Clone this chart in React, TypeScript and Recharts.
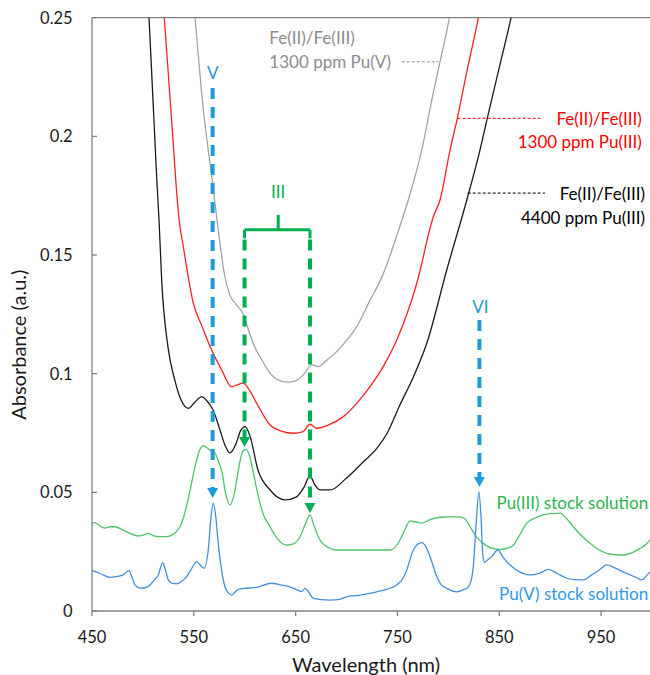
import React from "react";
import { LineChart, Line, XAxis, YAxis, ReferenceLine, ReferenceDot } from "recharts";

const FONT = "Lato, 'Open Sans', sans-serif";

const xTicks = [450, 550, 650, 750, 850, 950];
const yTicks = [0, 0.05, 0.1, 0.15, 0.2, 0.25];

// [wavelength nm, absorbance]
const fePuV1300: [number, number][] = [
  [530, 0.36], [545, 0.28], [551.2, 0.25], [559.4, 0.2111], [567.6, 0.183], [575.7, 0.155],
  [580, 0.142], [585.6, 0.133], [592, 0.129], [598.6, 0.125], [604, 0.118], [610, 0.111],
  [615, 0.1072], [624.9, 0.1002], [632, 0.0975], [642.8, 0.0964], [650, 0.097], [657.6, 0.0995],
  [665.8, 0.1037], [672.3, 0.103], [680, 0.1055], [690.3, 0.1093], [700, 0.114], [710, 0.1198],
  [723.1, 0.131], [735, 0.141], [749.2, 0.158], [760.6, 0.1732], [773.9, 0.1943], [785, 0.218],
  [791.8, 0.2314], [801, 0.25], [815, 0.29],
];

const fePuIII1300: [number, number][] = [
  [510, 0.31], [521, 0.25], [528, 0.208], [535.5, 0.165], [539.7, 0.1535], [549.5, 0.1297],
  [558, 0.12], [567.5, 0.11], [577.3, 0.1016], [587.2, 0.0945], [592, 0.0952], [598.6, 0.096],
  [604, 0.0935], [611.8, 0.0875], [624.9, 0.0784], [636, 0.0758], [647.7, 0.0749], [657, 0.0755],
  [664.1, 0.0787], [670.7, 0.077], [683, 0.0785], [696.9, 0.0819], [710, 0.0875], [723.1, 0.0945],
  [736, 0.103], [749.3, 0.1142], [769, 0.1381], [785.3, 0.1662], [791.8, 0.1732], [801.7, 0.1943],
  [808.9, 0.2078], [818, 0.227], [829.5, 0.25], [840, 0.275],
];

const fePuIII4400: [number, number][] = [
  [490, 0.34], [500, 0.29], [506, 0.25], [513.6, 0.182], [515.8, 0.165], [518.5, 0.139],
  [524.7, 0.111], [531.5, 0.097], [537.4, 0.089], [544.6, 0.0854], [551, 0.088], [557.8, 0.0903],
  [563, 0.0885], [568.9, 0.0847], [575.7, 0.0763], [580.5, 0.07], [585.6, 0.0666], [591, 0.07],
  [596, 0.076], [600.3, 0.0777], [605, 0.074], [613, 0.0594], [624.9, 0.051], [639.6, 0.0468],
  [650.4, 0.048], [658, 0.052], [664, 0.0569], [669, 0.053], [674, 0.051], [683.8, 0.051],
  [700, 0.056], [716.5, 0.0629], [729.7, 0.0685], [740, 0.075], [752.6, 0.087], [765, 0.098],
  [778.8, 0.1128], [798.4, 0.1437], [818.1, 0.1732], [831.1, 0.1943], [838.3, 0.2078],
  [850, 0.229], [861.6, 0.25], [880, 0.29],
];

const puIIIStock: [number, number][] = [
  [450, 0.037], [453, 0.0372], [457, 0.036], [462.8, 0.0349], [468, 0.0355], [472.6, 0.0355],
  [480, 0.0342], [487.3, 0.0327], [495.2, 0.0316], [500, 0.032], [505, 0.0327], [510, 0.0318],
  [516.8, 0.0313], [522, 0.0313], [528.6, 0.032], [533, 0.0335], [536.4, 0.0355], [540, 0.0395],
  [544.3, 0.0468], [551.2, 0.0608], [555, 0.067], [559.4, 0.0697], [565, 0.068], [570.8, 0.0665],
  [575, 0.062], [577.7, 0.0585], [581, 0.05], [585.6, 0.0447], [590, 0.05], [594, 0.06],
  [598, 0.0672], [601.3, 0.0681], [605, 0.065], [609, 0.057], [613.4, 0.0482], [618, 0.041],
  [624.9, 0.0355], [632, 0.0305], [641.3, 0.0278], [648, 0.0283], [654.3, 0.0313], [659, 0.036],
  [664.1, 0.0405], [668, 0.036], [674, 0.0299], [683.8, 0.0264], [690.3, 0.0257], [715, 0.0257],
  [742.7, 0.0257], [748, 0.027], [752.6, 0.0299], [757, 0.034], [762.4, 0.038], [768, 0.0375],
  [773.9, 0.037], [782, 0.0385], [791.8, 0.0395], [800, 0.0397], [811.5, 0.0397], [816, 0.039],
  [821.3, 0.0355], [828, 0.031], [834.4, 0.0285], [842, 0.0265], [850.8, 0.026], [858, 0.0265],
  [863.9, 0.0278], [870, 0.032], [877, 0.037], [885, 0.0392], [893.3, 0.0405], [900, 0.041],
  [909.7, 0.0412], [916, 0.039], [922.8, 0.0355], [930, 0.032], [939.2, 0.0285], [947, 0.026],
  [955.6, 0.0243], [965, 0.0237], [971.9, 0.0236], [980, 0.0245], [988.3, 0.0264], [994, 0.028],
  [1000, 0.031],
];

const puVStock: [number, number][] = [
  [450, 0.017], [458, 0.0158], [467.7, 0.0142], [475, 0.0146], [480.7, 0.0152], [486.3, 0.017],
  [489, 0.0145], [492.2, 0.011], [497.2, 0.0096], [502, 0.0098], [507, 0.011], [511, 0.013],
  [515.1, 0.0152], [519.4, 0.0204], [522, 0.0175], [525, 0.0131], [529, 0.0116], [533.2, 0.0114],
  [538, 0.0125], [543, 0.0145], [548, 0.018], [552.8, 0.0208], [556, 0.0195], [560, 0.018],
  [564.2, 0.0257], [566.5, 0.038], [569.1, 0.0454], [571.5, 0.04], [574, 0.0285], [577, 0.018],
  [580.6, 0.0102], [584, 0.0075], [587.2, 0.0067], [590, 0.0078], [593.7, 0.0091], [600, 0.0095],
  [611.7, 0.01], [626.5, 0.0117], [635, 0.011], [644.5, 0.0102], [652, 0.0088], [656, 0.0082],
  [659.2, 0.0095], [662, 0.0085], [667.4, 0.0053], [675, 0.0048], [683.8, 0.0046], [692, 0.0048],
  [700.2, 0.006], [710, 0.0065], [719.8, 0.0072], [729.7, 0.0081], [740, 0.0092], [749.3, 0.011],
  [755, 0.0135], [759.1, 0.0173], [765.6, 0.0257], [769.5, 0.028], [773.9, 0.0288], [778, 0.027],
  [782, 0.0229], [788.6, 0.0145], [793, 0.011], [798.4, 0.0096], [803, 0.0086], [808.2, 0.0081],
  [815, 0.009], [819.6, 0.0102], [822.5, 0.013], [824.5, 0.0187], [827, 0.035], [830, 0.0502],
  [832, 0.04], [833.7, 0.0243], [835.5, 0.0205], [837.6, 0.0212], [842.6, 0.0229], [848.5, 0.0257],
  [854, 0.0225], [860.6, 0.0194], [870, 0.0165], [880.3, 0.0152], [890, 0.016], [898.3, 0.0175],
  [907, 0.0158], [916.3, 0.0138], [925, 0.0132], [932.6, 0.0131], [940, 0.015], [948, 0.0172],
  [955.6, 0.0194], [962, 0.0185], [970, 0.0168], [978.5, 0.0152], [985, 0.014], [990, 0.0131],
  [995, 0.015], [1000, 0.0173],
];

const BLUE_ANN = "#1f9bd8";
const GREEN_ANN = "#00b050";

const series = [
  { key: "grey", pts: fePuV1300, color: "#a3a3a3" },
  { key: "red", pts: fePuIII1300, color: "#ff2020" },
  { key: "black", pts: fePuIII4400, color: "#1a1a1a" },
  { key: "green", pts: puIIIStock, color: "#4cc46a" },
  { key: "blue", pts: puVStock, color: "#4390da" },
];

// dashed arrows: x, top of dash, tip of head
const arrows = [
  { x: 568.5, top: 0.2204, tip: 0.0476, color: BLUE_ANN },
  { x: 599.8, top: 0.1565, tip: 0.0691, color: GREEN_ANN },
  { x: 664.1, top: 0.1565, tip: 0.0413, color: GREEN_ANN },
  { x: 830.5, top: 0.1226, tip: 0.0523, color: BLUE_ANN },
];

const leaders = [
  { x1: 754.2, x2: 790.1, y: 0.2314, color: "#8c8c8c" },
  { x1: 809.1, x2: 891.6, y: 0.2076, color: "#ff0000" },
  { x1: 819, x2: 894.9, y: 0.1761, color: "#000000" },
];

const labels = [
  { x: 624.2, y: 0.2415, text: "Fe(II)/Fe(III)", color: "#8c8c8c", anchor: "start" },
  { x: 624.2, y: 0.2314, text: "1300 ppm Pu(V)", color: "#8c8c8c", anchor: "start" },
  { x: 990, y: 0.2077, text: "Fe(II)/Fe(III)", color: "#ff0000", anchor: "end" },
  { x: 990, y: 0.1977, text: "1300 ppm Pu(III)", color: "#ff0000", anchor: "end" },
  { x: 993.2, y: 0.176, text: "Fe(II)/Fe(III)", color: "#000000", anchor: "end" },
  { x: 993.2, y: 0.1657, text: "4400 ppm Pu(III)", color: "#000000", anchor: "end" },
  { x: 996.2, y: 0.0456, text: "Pu(III) stock solution", color: "#2bb54f", anchor: "end" },
  { x: 996.2, y: 0.0075, text: "Pu(V) stock solution", color: "#2f9be0", anchor: "end" },
  { x: 568.5, y: 0.2271, text: "V", color: BLUE_ANN, anchor: "middle" },
  { x: 632.9, y: 0.1766, text: "III", color: GREEN_ANN, anchor: "middle" },
  { x: 831.5, y: 0.1281, text: "VI", color: BLUE_ANN, anchor: "middle" },
];

const toRows = (pts: [number, number][]) => pts.map(([x, y]) => ({ x, y }));

export default function App() {
  return (
    <div style={{ position: "absolute", left: 8, top: 8, width: 642, height: 667, overflow: "hidden" }}>
      <LineChart width={660} height={667} margin={{ top: 9.7, right: 16, bottom: 2, left: 0 }}>
        <XAxis
          type="number"
          dataKey="x"
          domain={[450, 1000]}
          ticks={xTicks}
          allowDataOverflow
          height={62}
          tickSize={5}
          tickMargin={15}
          stroke="#808080"
          strokeWidth={1.3}
          tick={{ fill: "#1a1a1a", fontSize: 16.5, fontFamily: FONT }}
          label={(p: any) => {
            const vb = p.viewBox;
            return (
              <text x={vb.x + vb.width / 2 - 6} y={vb.y + vb.height - 1} textAnchor="middle"
                fill="#1a1a1a" fontSize={20} fontFamily={FONT}>
                Wavelength (nm)
              </text>
            );
          }}
        />
        <YAxis
          type="number"
          domain={[0, 0.25]}
          ticks={yTicks}
          allowDataOverflow
          width={84}
          tickSize={-5}
          tickMargin={24.3}
          stroke="#808080"
          strokeWidth={1.3}
          tickFormatter={(v: number) => String(v)}
          tick={{ fill: "#1a1a1a", fontSize: 16.5, fontFamily: FONT }}
          label={(p: any) => {
            const vb = p.viewBox;
            return (
              <text transform={`translate(${vb.x + 18},${vb.y + 327}) rotate(-90)`} textAnchor="middle"
                fill="#1a1a1a" fontSize={20} fontFamily={FONT}>
                Absorbance (a.u.)
              </text>
            );
          }}
        />
        <ReferenceLine y={0.25} stroke="#808080" strokeWidth={1.3} />

        {series.map((s) => (
          <Line
            key={s.key}
            data={toRows(s.pts)}
            dataKey="y"
            type="monotone"
            stroke={s.color}
            strokeWidth={1.3}
            dot={false}
            isAnimationActive={false}
          />
        ))}

        {leaders.map((l, i) => (
          <ReferenceLine key={"ld" + i} segment={[{ x: l.x1, y: l.y }, { x: l.x2, y: l.y }]}
            stroke={l.color} strokeWidth={1} strokeDasharray="3 2" />
        ))}

        {/* brace over the two Pu(III) bands */}
        <ReferenceLine segment={[{ x: 599.8, y: 0.1606 }, { x: 664.1, y: 0.1606 }]} stroke={GREEN_ANN} strokeWidth={3} />
        <ReferenceLine segment={[{ x: 632.9, y: 0.1606 }, { x: 632.9, y: 0.1669 }]} stroke={GREEN_ANN} strokeWidth={3} />
        <ReferenceLine segment={[{ x: 599.8, y: 0.1606 }, { x: 599.8, y: 0.157 }]} stroke={GREEN_ANN} strokeWidth={3} />
        <ReferenceLine segment={[{ x: 664.1, y: 0.1606 }, { x: 664.1, y: 0.157 }]} stroke={GREEN_ANN} strokeWidth={3} />

        {arrows.map((a, i) => (
          <ReferenceLine key={"ar" + i} segment={[{ x: a.x, y: a.top }, { x: a.x, y: a.tip + 0.004 }]}
            stroke={a.color} strokeWidth={4} strokeDasharray="11 8" />
        ))}
        {arrows.map((a, i) => (
          <ReferenceDot key={"ah" + i} x={a.x} y={a.tip} r={1}
            shape={(p: any) => (
              <polygon points={`${p.cx - 5.5},${p.cy - 10} ${p.cx + 5.5},${p.cy - 10} ${p.cx},${p.cy}`} fill={a.color} />
            )} />
        ))}

        {labels.map((t, i) => (
          <ReferenceDot key={"tx" + i} x={t.x} y={t.y} r={1}
            shape={(p: any) => (
              <text x={p.cx} y={p.cy} textAnchor={t.anchor as any} dominantBaseline="central"
                fill={t.color} fontSize={17} fontFamily={FONT}>
                {t.text}
              </text>
            )} />
        ))}
      </LineChart>
    </div>
  );
}
